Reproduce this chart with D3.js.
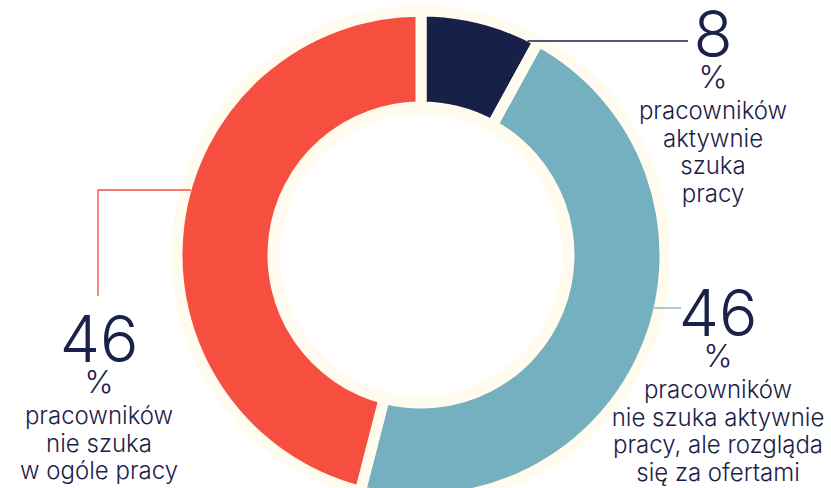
<!DOCTYPE html>
<html>
<head>
<meta charset="utf-8">
<script src="https://cdn.jsdelivr.net/npm/d3@7"></script>
<style>
  body { margin: 0; background: #fff; }
  svg { display: block; }
  text { font-family: Inter, "Open Sans", sans-serif; fill: #1b2148; }
</style>
</head>
<body>
<div id="chart"></div>
<script>
// Data
var categories = ['aktywnie szuka', 'rozgląda się', 'nie szuka'];
var values = [8, 46, 46];
var colors = ['#172047', '#74b0bf', '#f64f3f'];
var labelLines = [
  ['pracowników', 'aktywnie', 'szuka', 'pracy'],
  ['pracowników', 'nie szuka aktywnie', 'pracy, ale rozgląda', 'się za ofertami'],
  ['pracowników', 'nie szuka', 'w ogóle pracy']
];

var width = 831, height = 488;
var cx = 421, cy = 255;
var cream = '#fffbef';

var svg = d3.select('#chart').append('svg')
  .attr('width', width)
  .attr('height', height);

var g = svg.append('g')
  .attr('transform', 'translate(' + cx + ',' + cy + ')');

// cream ring under the slices
g.append('path')
  .attr('d', d3.arc().innerRadius(141).outerRadius(249).startAngle(0).endAngle(2 * Math.PI)())
  .style('fill', cream);

var pie = d3.pie().sort(null).value(function(d) { return d; });
var arc = d3.arc().innerRadius(148).outerRadius(244);

var arcs = pie(values);

g.selectAll('.slice')
  .data(arcs)
  .enter().append('path')
  .attr('class', 'slice')
  .attr('d', arc)
  .style('fill', function(d, i) { return colors[i]; })
  .style('stroke', cream)
  .style('stroke-width', 11)
  .style('stroke-linejoin', 'miter');

// Labels (layout: number centre x, number top y, leader line y)
var layout = [
  { x: 713, top: 11, lineY: 41, lineEnd: 688, side: 'right' },
  { x: 718, top: 290, lineY: 308, lineEnd: 681, side: 'right' },
  { x: 99, top: 316, lineY: 190, lineEnd: 98, side: 'left' }
];

var visR = 239;

layout.forEach(function(l, i) {
  var dy = l.lineY - cy;
  var dx = Math.sqrt(visR * visR - dy * dy);
  var x0 = l.side === 'right' ? cx + dx : cx - dx;
  var path = d3.path();
  path.moveTo(x0, l.lineY);
  path.lineTo(l.lineEnd, l.lineY);
  if (l.side === 'left') path.lineTo(l.lineEnd, 296);
  svg.append('path')
    .attr('d', path.toString())
    .style('fill', 'none')
    .style('stroke', colors[i])
    .style('stroke-width', 1.3);

  var t = svg.append('g').attr('transform', 'translate(' + l.x + ',' + l.top + ')');
  t.append('text')
    .attr('y', 46)
    .attr('text-anchor', 'middle')
    .style('font-size', '64px')
    .style('font-weight', 300)
    .text(values[i]);
  t.append('text')
    .attr('y', 77)
    .attr('text-anchor', 'middle')
    .style('font-size', '31px')
    .style('font-weight', 300)
    .text('%');
  t.selectAll('.lbl')
    .data(labelLines[i])
    .enter().append('text')
    .attr('class', 'lbl')
    .attr('y', function(d, j) { return 108 + j * 27.7; })
    .attr('text-anchor', 'middle')
    .style('font-size', '24px')
    .style('font-weight', 300)
    .text(function(d) { return d; });
});
</script>
</body>
</html>
